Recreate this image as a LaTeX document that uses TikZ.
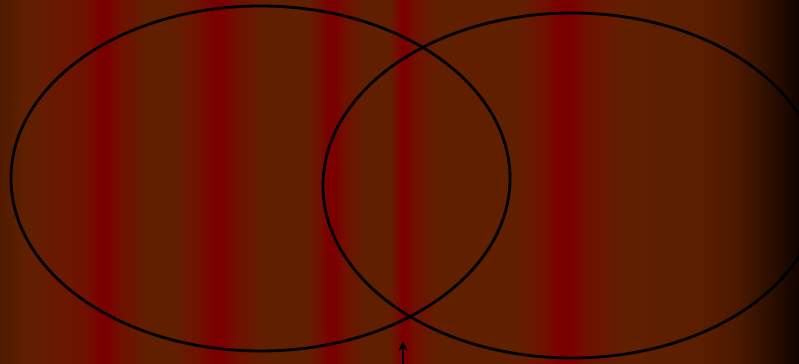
\documentclass[tikz,border=0pt]{standalone}
\usepackage{xcolor}
\usepackage{tikz}
\usetikzlibrary{arrows.meta,shapes.geometric}

\definecolor{edgeL}{HTML}{501A00}
\definecolor{brn}{HTML}{602000}
\definecolor{brnred}{HTML}{6A1800}
\definecolor{redbrn}{HTML}{701000}
\definecolor{stripe}{HTML}{7A0000}
\definecolor{darkbrn}{HTML}{5A1E00}
\definecolor{deepbrn}{HTML}{4A1800}
\definecolor{edgeR}{HTML}{100400}

% stripes across the width, mapped onto 25bp..75bp
\pgfdeclarehorizontalshading{stripes}{100bp}{
  color(0bp)=(edgeL); color(25bp)=(edgeL); color(26.56bp)=(brn);
  color(28.75bp)=(brnred); color(30.51bp)=(redbrn); color(31.13bp)=(stripe);
  color(31.76bp)=(stripe); color(32.51bp)=(redbrn); color(34.39bp)=(brn);
  color(35.76bp)=(brn); color(37.52bp)=(redbrn); color(38.33bp)=(stripe);
  color(38.89bp)=(stripe); color(39.77bp)=(redbrn); color(41.77bp)=(brn);
  color(44.27bp)=(brn); color(45.03bp)=(redbrn); color(45.53bp)=(stripe);
  color(45.96bp)=(stripe); color(46.59bp)=(redbrn); color(47.84bp)=(brn);
  color(49.28bp)=(brn); color(49.78bp)=(redbrn); color(50.09bp)=(stripe);
  color(50.41bp)=(stripe); color(50.91bp)=(redbrn); color(52.53bp)=(brn);
  color(57.23bp)=(brn); color(59.11bp)=(redbrn); color(59.92bp)=(stripe);
  color(60.80bp)=(stripe); color(61.67bp)=(redbrn); color(64.11bp)=(brn);
  color(68.80bp)=(darkbrn); color(71.31bp)=(deepbrn);
  color(75bp)=(edgeR); color(100bp)=(edgeR)}

\begin{document}
\begin{tikzpicture}[
  x=0.03cm, y=-0.03cm,
  set/.style={draw=black, ellipse, line width=0.085cm, inner sep=0pt},
  arr/.style={-{Stealth[length=0.3cm, width=0.27cm]}, line width=0.055cm}
]
\useasboundingbox (0,0) rectangle (799,364);
\begin{scope}
\clip (0,0) rectangle (799,364);
\shade[shading=stripes] (0,0) rectangle (799,364);
\node[set, minimum width=14.97cm, minimum height=10.35cm] (setA) at (260.5,178.5) {};
\node[set, minimum width=14.94cm, minimum height=10.35cm] (setB) at (572,185.5) {};
\coordinate (base) at (403,366);
\coordinate (tip) at (403,341);
\draw[arr] (base) -- (tip);
\end{scope}
\end{tikzpicture}
\end{document}
